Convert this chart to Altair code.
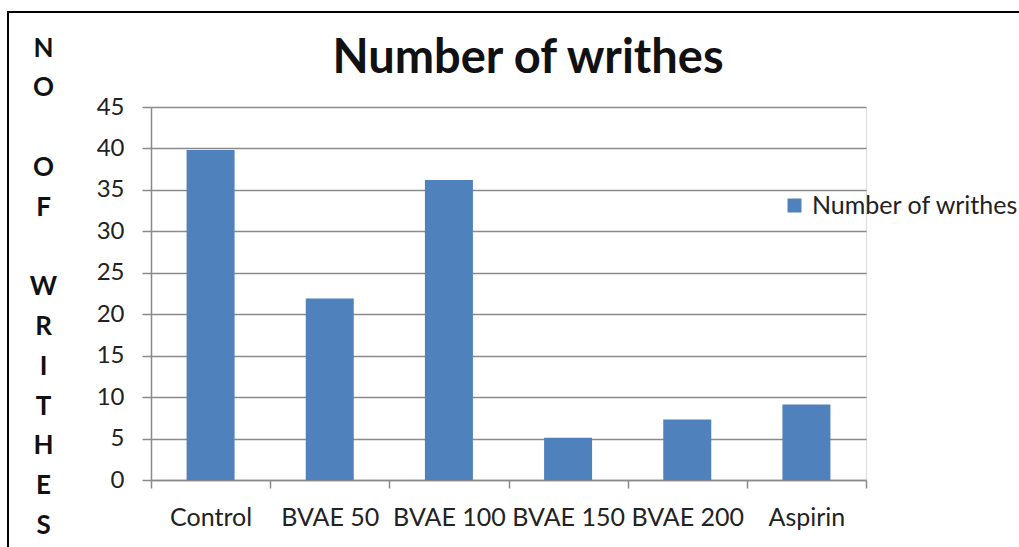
import altair as alt
import pandas as pd

categories = ["Control", "BVAE 50", "BVAE 100", "BVAE 150", "BVAE 200", "Aspirin"]
values = [39.8, 21.9, 36.2, 5.1, 7.3, 9.1]
series_name = "Number of writhes"
chart_title = "Number of writhes"
y_ticks = [0, 5, 10, 15, 20, 25, 30, 35, 40, 45]
y_title_lines = ["N", "O", "\u2800", "O", "F", "\u2800", "W", "R", "I", "T", "H", "E", "S"]

df = pd.DataFrame({"category": categories, "value": values, "series": [series_name] * len(categories)})
title_df = pd.DataFrame({"text": [chart_title]})

FONT = "Lato"
GRID = "#8a8a8a"

bars = alt.Chart(df).mark_bar(size=48).encode(
    x=alt.X(
        "category:N",
        sort=categories,
        scale=alt.Scale(paddingInner=0, paddingOuter=0),
        axis=alt.Axis(
            title=None, labelAngle=0, labelFont=FONT, labelFontSize=25, labelColor="#222222",
            tickBand="extent", tickSize=8, tickColor=GRID, tickWidth=1.5,
            domainColor=GRID, domainWidth=1.5, labelPadding=17, grid=False,
        ),
    ),
    y=alt.Y(
        "value:Q",
        scale=alt.Scale(domain=[0, 45], nice=False),
        axis=alt.Axis(
            values=y_ticks, title=y_title_lines, titleAngle=0, titleAlign="center",
            titleBaseline="top", titleX=-108, titleY=-72, titleFont=FONT,
            titleFontSize=26, titleFontWeight="bold", titleLineHeight=39.8, titleColor="#111111",
            labelFont=FONT, labelFontSize=24, labelColor="#222222", labelPadding=18,
            tickSize=9, tickColor=GRID, tickWidth=1.5, domainColor=GRID, domainWidth=1.5,
            grid=True, gridColor=GRID, gridWidth=1.5,
        ),
    ),
    color=alt.Color(
        "series:N",
        scale=alt.Scale(range=["#4f81bd"]),
        legend=alt.Legend(
            title=None, orient="none", legendX=631, legendY=86, symbolType="square",
            symbolSize=196, symbolStrokeWidth=0, labelFont=FONT, labelFontSize=25,
            labelColor="#222222", labelLimit=400, labelOffset=5,
        ),
    ),
)

title_text = alt.Chart(title_df).mark_text(
    font=FONT, fontSize=47, fontWeight="bold", color="#111111", align="center", baseline="alphabetic"
).encode(text="text:N", x=alt.value(377), y=alt.value(-34))

frame = alt.Chart(df).mark_rect(fill=None, stroke="black", strokeWidth=2).encode(
    x=alt.value(-143), x2=alt.value(880), y=alt.value(-95), y2=alt.value(460)
)

chart = (
    alt.layer(bars, title_text, frame)
    .properties(
        width=715,
        height=373,
        autosize=alt.AutoSizeParams(type="none"),
        padding={"left": 151, "top": 107, "right": 153, "bottom": 67},
    )
    .configure_view(stroke=None)
    .configure(background="white")
)

chart.save("out.html", embed_options={"renderer": "svg", "actions": False})
